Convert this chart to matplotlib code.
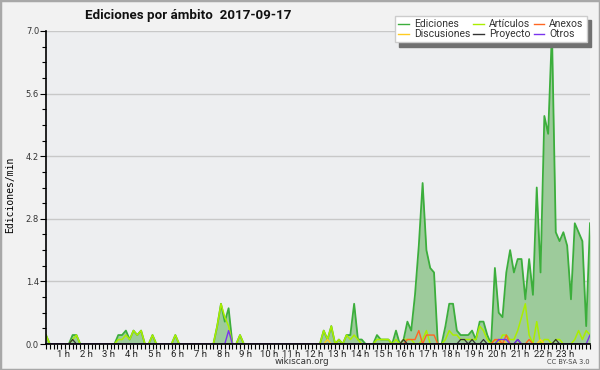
import matplotlib

matplotlib.use("Agg")
import matplotlib.pyplot as plt
import numpy as np
from matplotlib.lines import Line2D
from matplotlib.patches import Rectangle
from matplotlib.ticker import MultipleLocator
from matplotlib.transforms import ScaledTranslation

TITLE = "Ediciones por ámbito  2017-09-17"
HOUR_TICKS = list(range(1, 24))
HOUR_LABELS = [f"{h} h" for h in HOUR_TICKS]
Y_TICKS = [0.0, 1.4, 2.8, 4.2, 5.6, 7.0]

# edits per minute, one value per 10 minute slot (144 slots, 12 per row = 2 h)
EDICIONES = [
    0.2, 0, 0, 0, 0, 0, 0, 0.2, 0.2, 0, 0, 0,
    0, 0, 0, 0, 0, 0, 0, 0.2, 0.2, 0.3, 0.1, 0.3,
    0.2, 0.3, 0, 0, 0.2, 0, 0, 0, 0, 0, 0.2, 0,
    0, 0, 0, 0, 0, 0, 0, 0, 0, 0.4, 0.9, 0.5,
    0.8, 0, 0, 0.2, 0, 0, 0, 0, 0, 0, 0, 0,
    0, 0, 0, 0, 0, 0, 0, 0, 0, 0, 0, 0,
    0, 0.3, 0.1, 0.4, 0, 0.1, 0, 0.2, 0.2, 0.9, 0.1, 0.1,
    0, 0, 0, 0.2, 0.1, 0.1, 0.1, 0, 0.3, 0, 0.1, 0.5,
    0.3, 1.1, 2.2, 3.6, 2.1, 1.7, 1.6, 0, 0, 0.4, 0.9, 0.9,
    0.3, 0.2, 0.2, 0.2, 0.3, 0.1, 0.5, 0.5, 0.2, 0, 1.7, 0.7,
    0.6, 1.6, 2.1, 1.6, 1.9, 1.9, 1.0, 1.9, 1.1, 3.5, 1.6, 5.1,
    4.7, 7.0, 2.5, 2.3, 2.5, 2.2, 1.0, 2.7, 2.5, 2.3, 0.4, 2.7,
]
ARTICULOS = [
    0.2, 0, 0, 0, 0, 0, 0, 0.1, 0.2, 0, 0, 0,
    0, 0, 0, 0, 0, 0, 0, 0.1, 0.1, 0.2, 0.1, 0.3,
    0.2, 0.3, 0, 0, 0.2, 0, 0, 0, 0, 0, 0.2, 0,
    0, 0, 0, 0, 0, 0, 0, 0, 0, 0.4, 0.9, 0.6,
    0.4, 0, 0, 0.2, 0, 0, 0, 0, 0, 0, 0, 0,
    0, 0, 0, 0, 0, 0, 0, 0, 0, 0, 0, 0,
    0, 0.3, 0.1, 0.4, 0, 0.1, 0, 0.2, 0.1, 0.2, 0.1, 0,
    0, 0, 0, 0.1, 0.1, 0.1, 0.1, 0, 0.1, 0, 0.1, 0.1,
    0.1, 0, 0, 0.1, 0.3, 0, 0, 0, 0, 0.1, 0.3, 0.2,
    0.2, 0.1, 0.1, 0.1, 0.1, 0.1, 0.4, 0.3, 0.1, 0, 0.1, 0,
    0.2, 0.2, 0.1, 0.1, 0.3, 0.6, 0.9, 0.2, 0, 0.5, 0, 0.1,
    0.1, 0, 0.1, 0.1, 0, 0, 0, 0.1, 0.3, 0.1, 0.3, 0.2,
]
ANEXOS = [
    0, 0, 0, 0, 0, 0, 0, 0, 0, 0, 0, 0,
    0, 0, 0, 0, 0, 0, 0, 0, 0, 0, 0, 0,
    0, 0, 0, 0, 0, 0, 0, 0, 0, 0, 0, 0,
    0, 0, 0, 0, 0, 0, 0, 0, 0, 0, 0, 0,
    0, 0, 0, 0, 0, 0, 0, 0, 0, 0, 0, 0,
    0, 0, 0, 0, 0, 0, 0, 0, 0, 0, 0, 0,
    0, 0, 0, 0, 0, 0, 0, 0, 0, 0, 0, 0,
    0, 0, 0, 0, 0, 0, 0, 0, 0, 0, 0, 0.1,
    0.1, 0.1, 0.3, 0, 0.2, 0.2, 0.2, 0, 0, 0, 0, 0,
    0, 0, 0, 0, 0, 0, 0, 0, 0, 0, 0.1, 0.1,
    0, 0.2, 0, 0, 0, 0, 0, 0.1, 0, 0, 0, 0,
    0, 0, 0, 0, 0, 0, 0, 0, 0, 0, 0, 0,
]
DISCUSIONES = [
    0, 0, 0, 0, 0, 0, 0, 0, 0, 0, 0, 0,
    0, 0, 0, 0, 0, 0, 0, 0, 0, 0, 0, 0,
    0, 0, 0, 0, 0, 0, 0, 0, 0, 0, 0, 0,
    0, 0, 0, 0, 0, 0, 0, 0, 0, 0, 0, 0,
    0, 0, 0, 0, 0, 0, 0, 0, 0, 0, 0, 0,
    0, 0, 0, 0, 0, 0, 0, 0, 0, 0, 0, 0,
    0, 0, 0.1, 0, 0, 0, 0, 0, 0, 0, 0, 0,
    0, 0, 0, 0, 0, 0, 0, 0, 0, 0, 0, 0,
    0, 0, 0, 0, 0, 0, 0, 0, 0, 0, 0, 0,
    0, 0, 0, 0, 0, 0, 0, 0, 0, 0, 0, 0,
    0.1, 0, 0, 0, 0, 0, 0, 0, 0, 0, 0.1, 0,
    0, 0, 0, 0, 0, 0, 0, 0, 0, 0, 0, 0,
]
PROYECTO = [
    0, 0, 0, 0, 0, 0, 0, 0.1, 0, 0, 0, 0,
    0, 0, 0, 0, 0, 0, 0, 0, 0, 0, 0, 0,
    0, 0, 0, 0, 0, 0, 0, 0, 0, 0, 0, 0,
    0, 0, 0, 0, 0, 0, 0, 0, 0, 0, 0, 0,
    0, 0, 0, 0, 0, 0, 0, 0, 0, 0, 0, 0,
    0, 0, 0, 0, 0, 0, 0, 0, 0, 0, 0, 0,
    0, 0, 0, 0, 0, 0, 0, 0, 0, 0, 0, 0,
    0, 0, 0, 0, 0, 0, 0, 0, 0, 0, 0.1, 0,
    0, 0, 0, 0, 0, 0, 0, 0, 0, 0, 0, 0,
    0, 0.1, 0.1, 0, 0.1, 0, 0, 0.1, 0, 0, 0, 0,
    0, 0, 0, 0, 0.1, 0, 0, 0, 0, 0, 0, 0,
    0, 0, 0.1, 0, 0, 0, 0, 0, 0, 0, 0, 0,
]
OTROS = [
    0, 0, 0, 0, 0, 0, 0, 0, 0, 0, 0, 0,
    0, 0, 0, 0, 0, 0, 0, 0, 0, 0, 0, 0,
    0, 0, 0, 0, 0, 0, 0, 0, 0, 0, 0, 0,
    0, 0, 0, 0, 0, 0, 0, 0, 0, 0, 0, 0,
    0.3, 0, 0, 0, 0, 0, 0, 0, 0, 0, 0, 0,
    0, 0, 0, 0, 0, 0, 0, 0, 0, 0, 0, 0,
    0, 0, 0, 0, 0, 0, 0, 0, 0, 0, 0, 0,
    0, 0, 0, 0, 0, 0, 0, 0, 0, 0, 0, 0,
    0, 0, 0, 0, 0, 0, 0, 0, 0, 0, 0, 0,
    0, 0, 0, 0, 0, 0, 0, 0, 0, 0, 0, 0.1,
    0.1, 0.1, 0, 0, 0.1, 0, 0, 0, 0, 0, 0, 0,
    0, 0, 0, 0, 0, 0, 0, 0, 0, 0, 0, 0.2,
]


def main() -> None:
    x = np.arange(len(EDICIONES)) / 6

    fig = plt.figure(figsize=(6, 3.7), dpi=100, facecolor="#f2f2f2")
    fig.patches.append(
        Rectangle((0, 0), 1, 1, transform=fig.transFigure, fill=False,
                  edgecolor="#a8a8a8", linewidth=2.5)
    )
    ax = fig.add_axes([46 / 600, 26 / 370, 544 / 600, 313 / 370])
    ax.set_facecolor("#edeef0")

    ax.fill_between(x, EDICIONES, color="#9dcb9b", linewidth=0)
    series = [
        ("Ediciones", EDICIONES, "#3cae3c", 1.3),
        ("Artículos", ARTICULOS, "#aaee00", 1.1),
        ("Discusiones", DISCUSIONES, "#ffcc22", 1.0),
        ("Anexos", ANEXOS, "#ff6622", 1.0),
        ("Proyecto", PROYECTO, "#333333", 0.9),
        ("Otros", OTROS, "#7a33ee", 1.0),
    ]
    handles = {}
    for name, values, color, lw in series:
        ax.plot(x, values, color=color, linewidth=lw)
        handles[name] = Line2D([], [], color=color, linewidth=1.0)

    ax.set_xlim(0, x[-1])
    ax.set_ylim(0, 7.0)
    ax.set_yticks(Y_TICKS, [f"{v:.1f}" for v in Y_TICKS])
    ax.yaxis.set_minor_locator(MultipleLocator(0.35))
    ax.set_xticks(HOUR_TICKS, HOUR_LABELS)
    ax.xaxis.set_minor_locator(MultipleLocator(1 / 6))
    ax.yaxis.grid(True, color="#c8c8c8", linewidth=1)
    ax.set_axisbelow(True)
    for side in ("top", "right"):
        ax.spines[side].set_visible(False)
    for side in ("left", "bottom"):
        ax.spines[side].set_linewidth(1.2)

    ax.tick_params(axis="y", which="major", length=4, width=0.8, pad=1,
                   labelsize=6, labelcolor="#333333")
    ax.tick_params(axis="y", which="minor", length=3, width=0.8)
    ax.tick_params(axis="x", which="both", length=3.5, width=0.8, pad=0.5,
                   labelcolor="#222222")
    shift = ScaledTranslation(-4 / 72, 0, fig.dpi_scale_trans)
    for label in ax.get_xticklabels():
        label.set_transform(label.get_transform() + shift)
        label.set_fontfamily("Roboto")
        label.set_fontsize(6.8)

    order = ["Ediciones", "Discusiones", "Artículos", "Proyecto", "Anexos", "Otros"]
    fig.legend(
        [handles[n] for n in order], order, ncol=3, loc="upper right",
        bbox_to_anchor=(592 / 600, 1 - 11 / 370),
        prop={"family": "Roboto", "size": 7.5},
        labelcolor="#333333",
        frameon=True, fancybox=False, edgecolor="#cccccc", framealpha=1,
        shadow={"ox": 3, "oy": -3, "color": "#707070", "alpha": 1},
        handlelength=1.0, handletextpad=0.5, columnspacing=0.3,
        labelspacing=0.0, borderpad=0.3,
    )

    fig.text(85 / 600, 1 - 16 / 370, TITLE, fontsize=9.6, fontweight="bold",
             family="Roboto", ha="left", va="center", color="#111111")
    fig.text(10 / 600, 1 - 195 / 370, "Ediciones/min", rotation=90,
             family="DejaVu Sans Mono", fontsize=7, ha="center", va="center")
    fig.text(302 / 600, 1 - 362 / 370, "wikiscan.org", fontsize=6.3,
             ha="center", va="center", color="#333333")
    fig.text(590 / 600, 1 - 362 / 370, "CC BY-SA 3.0", fontsize=4.8,
             ha="right", va="center", color="#444444")

    fig.savefig("out.png", dpi=100, facecolor=fig.get_facecolor())
    plt.close(fig)


if __name__ == "__main__":
    main()
